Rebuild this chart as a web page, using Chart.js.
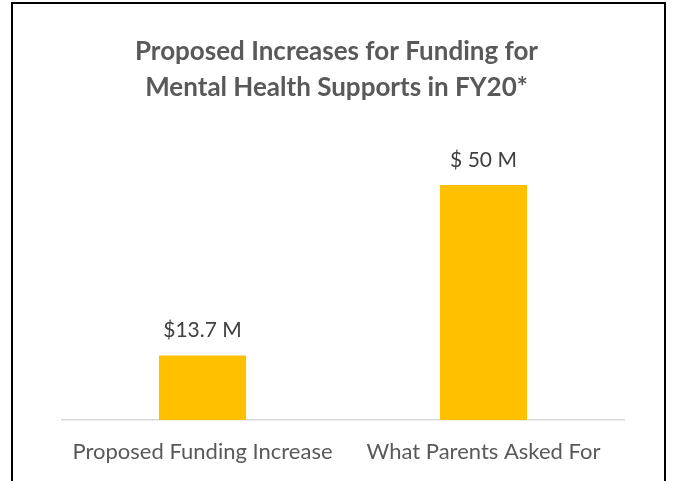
<!DOCTYPE html>
<html>
<head>
<meta charset="utf-8">
<script src="https://cdn.jsdelivr.net/npm/chart.js@4.4.0/dist/chart.umd.min.js"></script>
<style>
  html, body { margin: 0; padding: 0; background: #fff; }
  #wrap { position: relative; width: 673px; height: 481px; overflow: hidden; }
  #frame { position: absolute; left: 11px; top: 2px; width: 655px; height: 490px; border: 2px solid #000; box-sizing: border-box; pointer-events: none; }
  canvas { position: absolute; left: 0; top: 0; }
</style>
</head>
<body>
<div id="wrap">
  <canvas id="chart" width="673" height="481"></canvas>
  <div id="frame"></div>
</div>
<script>
// data
const categories = ['Proposed Funding Increase', 'What Parents Asked For'];
const amounts = [13.7, 50];
const amountLabels = ['$13.7 M', '$ 50 M'];
const titleLines = ['Proposed Increases for Funding for', 'Mental Health Supports in FY20*'];

const FONT = 'Lato, "Open Sans", sans-serif';

// labels above each bar (no datalabels plugin offline)
const barValueLabels = {
    id: 'barValueLabels',
    afterDatasetsDraw(chart) {
        const ctx = chart.ctx;
        const meta = chart.getDatasetMeta(0);
        ctx.save();
        ctx.font = '21px ' + FONT;
        ctx.fillStyle = '#404040';
        ctx.textAlign = 'center';
        ctx.textBaseline = 'middle';
        meta.data.forEach((bar, i) => {
            ctx.fillText(amountLabels[i], bar.x, bar.y - 25);
        });
        ctx.restore();
    }
};

new Chart(document.getElementById('chart'), {
    type: 'bar',
    data: {
        labels: categories,
        datasets: [{
            data: amounts,
            backgroundColor: '#FFC000',
            borderWidth: 0,
            categoryPercentage: 1,
            barPercentage: 0.31
        }]
    },
    options: {
        responsive: false,
        animation: false,
        layout: { padding: { left: 49, right: 49, top: 3, bottom: 16 } },
        plugins: {
            legend: { display: false },
            tooltip: { enabled: false },
            title: {
                display: true,
                text: titleLines,
                color: '#595959',
                font: { family: FONT, size: 26, weight: 'bold', lineHeight: 1.385 },
                padding: { top: 31, bottom: 32 }
            }
        },
        scales: {
            x: {
                grid: { display: false, drawTicks: false },
                border: { color: '#D9D9D9', width: 1.5 },
                ticks: { color: '#595959', font: { family: FONT, size: 22 }, padding: 19 },
                afterFit(scale) { scale.height = 45; }
            },
            y: {
                min: 0,
                max: 60,
                grid: { display: false, drawTicks: false },
                border: { display: false },
                ticks: { display: false },
                afterFit(scale) { scale.width = 13; }
            }
        }
    },
    plugins: [barValueLabels]
});
</script>
</body>
</html>
